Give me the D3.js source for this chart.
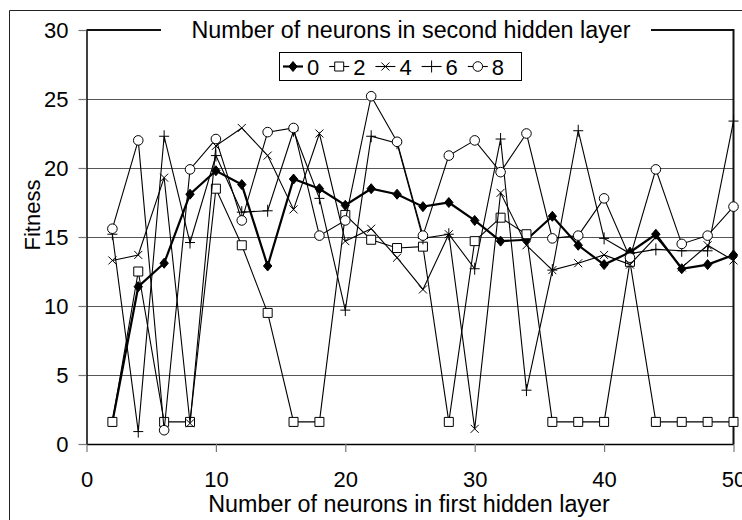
<!DOCTYPE html>
<html>
<head>
<meta charset="utf-8">
<script src="https://cdn.jsdelivr.net/npm/d3@7"></script>
<style>
  html, body { margin: 0; padding: 0; background: #fff; }
  svg { display: block; font-family: "Liberation Sans", Arial, sans-serif; }
</style>
</head>
<body>
<svg id="chart" width="742" height="520"></svg>
<script>
// Neurons in the first hidden layer
const firstLayer = [2, 4, 6, 8, 10, 12, 14, 16, 18, 20, 22, 24, 26, 28, 30, 32, 34, 36, 38, 40, 42, 44, 46, 48, 50];

// Fitness for each count of neurons in the second hidden layer
const fit0 = [1.6, 11.4, 13.1, 18.1, 19.8, 18.8, 12.9, 19.2, 18.5, 17.3, 18.5, 18.1, 17.2, 17.5, 16.2, 14.7, 14.8, 16.5, 14.4, 13.0, 13.9, 15.2, 12.7, 13.0, 13.7];
const fit2 = [1.6, 12.5, 1.6, 1.6, 18.5, 14.4, 9.5, 1.6, 1.6, 16.6, 14.8, 14.2, 14.3, 1.6, 14.7, 16.4, 15.2, 1.6, 1.6, 1.6, 13.2, 1.6, 1.6, 1.6, 1.6];
const fit4 = [13.3, 13.7, 19.3, 1.5, 21.6, 22.9, 20.9, 17.0, 22.5, 14.7, 15.6, 13.5, 11.2, 15.2, 1.1, 18.2, 14.4, 12.6, 13.1, 13.7, 13.0, 15.0, 12.8, 14.4, 13.3];
const fit6 = [15.2, 0.9, 22.3, 14.6, 20.9, 16.8, 16.9, 22.7, 17.8, 9.7, 22.3, 21.8, 14.9, 15.2, 12.7, 22.1, 3.9, 12.6, 22.7, 14.9, 13.8, 14.1, 14.0, 14.0, 23.4];
const fit8 = [15.6, 22.0, 1.0, 19.9, 22.1, 16.2, 22.6, 22.9, 15.1, 16.2, 25.2, 21.9, 15.1, 20.9, 22.0, 19.7, 22.5, 14.9, 15.1, 17.8, 13.5, 19.9, 14.5, 15.1, 17.2];

const seriesNames = ["0", "2", "4", "6", "8"];
const seriesValues = [fit0, fit2, fit4, fit6, fit8];

const xTicks = [0, 10, 20, 30, 40, 50];
const yTicks = [0, 5, 10, 15, 20, 25, 30];

const legendTitle = "Number of neurons in second hidden layer";
const xTitle = "Number of neurons in first hidden layer";
const yTitle = "Fitness";

// ---------------------------------------------------------------
const svg = d3.select("#chart");
const plot = { left: 86.5, right: 733.5, top: 30, bottom: 444 };

const x = d3.scaleLinear().domain([0, 50]).range([plot.left, plot.right]);
const y = d3.scaleLinear().domain([0, 30]).range([plot.bottom, plot.top]);

// outer frame (runs off the right and bottom edges)
svg.append("path")
  .attr("d", "M9.5,530 V10.5 H760")
  .attr("fill", "none").attr("stroke", "#222").attr("stroke-width", 1);

// horizontal gridlines
svg.append("g")
  .selectAll("line")
  .data(yTicks.filter(t => t > 0 && t < 30))
  .join("line")
  .attr("x1", plot.left).attr("x2", plot.right)
  .attr("y1", d => Math.round(y(d)) + 0.5).attr("y2", d => Math.round(y(d)) + 0.5)
  .attr("stroke", "#555").attr("stroke-width", 1);

// axes
const xAxis = d3.axisBottom(x).tickValues(xTicks).tickSize(8).tickPadding(19).tickSizeOuter(0);
const yAxis = d3.axisLeft(y).tickValues(yTicks).tickSize(8).tickPadding(10).tickSizeOuter(0);

const gx = svg.append("g").attr("transform", `translate(0,${plot.bottom})`).call(xAxis);
const gy = svg.append("g").attr("transform", `translate(${plot.left},0)`).call(yAxis);

[gx, gy].forEach(g => {
  g.select(".domain").attr("stroke", "#000").attr("stroke-width", 1.5);
  g.selectAll(".tick line").attr("stroke", "#777").attr("stroke-width", 1.2);
  g.selectAll(".tick text")
    .attr("fill", "#000")
    .attr("font-size", 22)
    .attr("font-family", "Liberation Sans, Arial, sans-serif");
});

// top and right borders of the plot area
svg.append("path")
  .attr("d", `M${plot.left},${plot.top} H${plot.right} V${plot.bottom}`)
  .attr("fill", "none").attr("stroke", "#111").attr("stroke-width", 2);

// marker shapes
function markerPath(kind) {
  switch (kind) {
    case "diamond": return "M0,-5L4.2,0L0,5L-4.2,0Z";
    case "square": return "M-4.5,-4.5H4.5V4.5H-4.5Z";
    case "cross": return "M-4,-4L4,4M-4,4L4,-4";
    case "plus": return "M-5,0H5M0,-6V6";
    case "circle": return d3.arc()({ innerRadius: 0, outerRadius: 4.8, startAngle: 0, endAngle: 2 * Math.PI });
  }
}
const markerKinds = ["diamond", "square", "cross", "plus", "circle"];
const markerFill = { diamond: "#000", square: "#fff", cross: "none", plus: "none", circle: "#fff" };
const lineWidths = [2.2, 1.1, 1.1, 1.1, 1.1];

const line = d3.line().x(d => x(d.n)).y(d => y(d.v));

// series drawn in legend order, later ones on top
seriesValues.forEach((vals, i) => {
  const pts = firstLayer.map((n, k) => ({ n, v: vals[k] }));
  const g = svg.append("g");
  g.append("path")
    .attr("d", line(pts))
    .attr("fill", "none").attr("stroke", "#000")
    .attr("stroke-width", lineWidths[i]).attr("stroke-linejoin", "miter");
  g.selectAll("path.mk")
    .data(pts)
    .join("path")
    .attr("class", "mk")
    .attr("transform", d => `translate(${x(d.n)},${y(d.v)})`)
    .attr("d", markerPath(markerKinds[i]))
    .attr("fill", markerFill[markerKinds[i]])
    .attr("stroke", "#000").attr("stroke-width", 1);
});

// legend title over the top border
svg.append("rect")
  .attr("x", 161).attr("y", 18).attr("width", 490).attr("height", 24)
  .attr("fill", "#fff");
svg.append("text")
  .attr("x", 411).attr("y", 38)
  .attr("text-anchor", "middle")
  .attr("font-size", 23.3)
  .text(legendTitle);

// legend box
const lg = svg.append("g");
lg.append("rect")
  .attr("x", 279.5).attr("y", 52.5).attr("width", 242).attr("height", 28)
  .attr("fill", "#fff").attr("stroke", "#000").attr("stroke-width", 1);
seriesNames.forEach((name, i) => {
  const x0 = 283 + i * 46.2;
  const cy = 66.5;
  lg.append("line")
    .attr("x1", x0).attr("x2", x0 + 20).attr("y1", cy).attr("y2", cy)
    .attr("stroke", "#000").attr("stroke-width", lineWidths[i]);
  lg.append("path")
    .attr("transform", `translate(${x0 + 10},${cy})`)
    .attr("d", markerPath(markerKinds[i]))
    .attr("fill", markerFill[markerKinds[i]])
    .attr("stroke", "#000").attr("stroke-width", 1);
  lg.append("text")
    .attr("x", x0 + 24).attr("y", cy + 8)
    .attr("font-size", 22)
    .text(name);
});

// axis titles
svg.append("text")
  .attr("x", 409).attr("y", 512)
  .attr("text-anchor", "middle")
  .attr("font-size", 23.3)
  .text(xTitle);

svg.append("text")
  .attr("transform", "translate(40,215) rotate(-90)")
  .attr("text-anchor", "middle")
  .attr("font-size", 22)
  .text(yTitle);
</script>
</body>
</html>
